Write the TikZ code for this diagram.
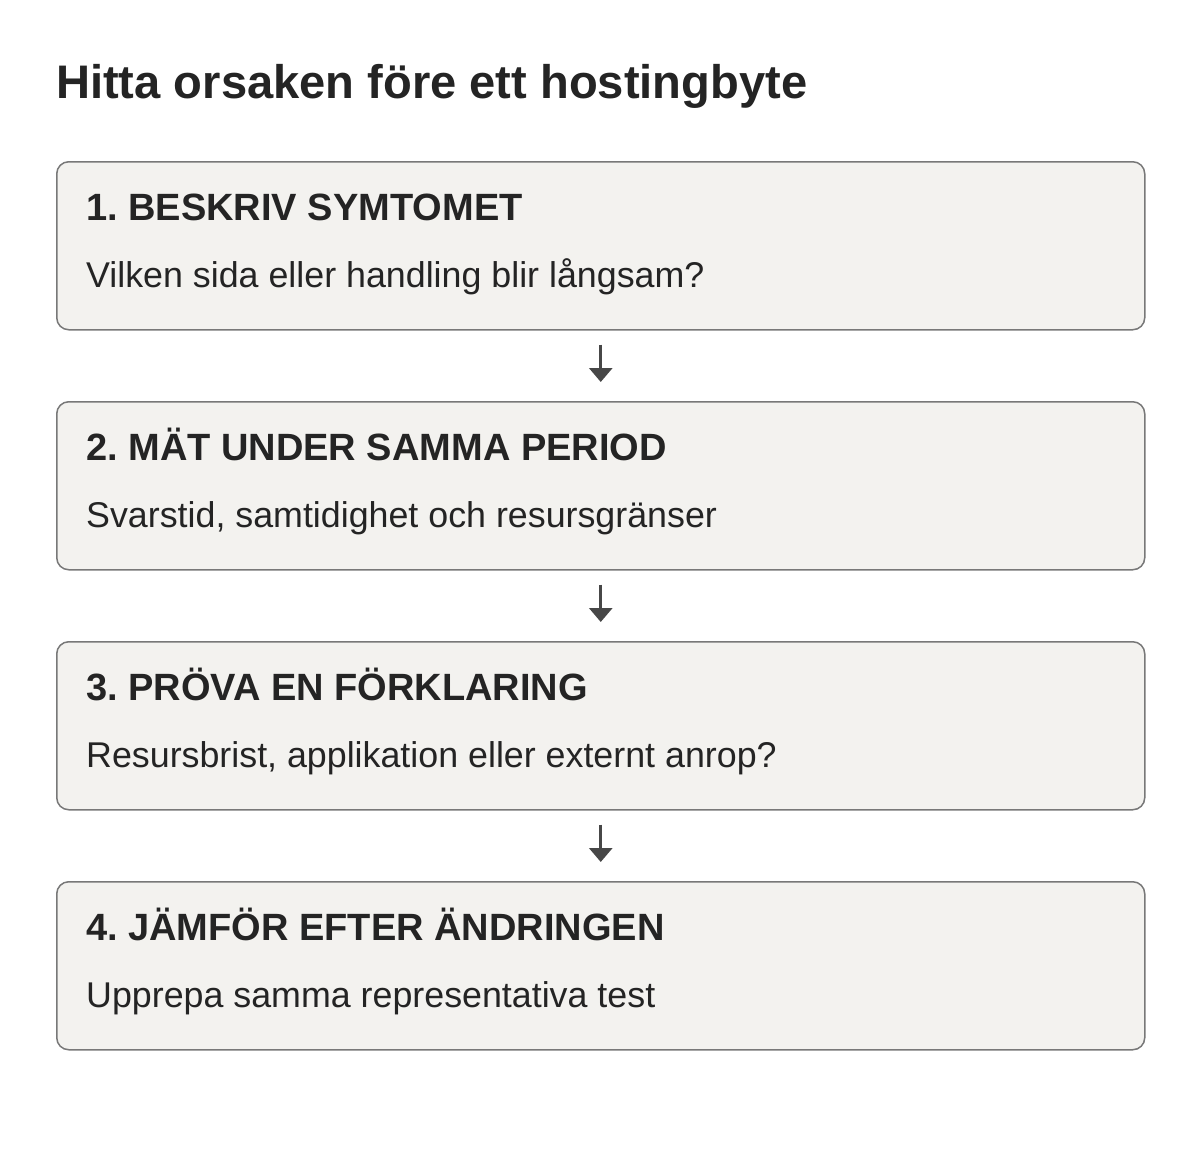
\documentclass[tikz,border=0pt]{standalone}
\usepackage{fontspec}
\setmainfont{Liberation Sans}
\usetikzlibrary{arrows.meta}
\definecolor{txt}{HTML}{242424}
\definecolor{boxfill}{HTML}{F3F2EF}
\definecolor{boxline}{HTML}{787878}
\definecolor{arrcol}{HTML}{474747}
\frenchspacing
\begin{document}
\begin{tikzpicture}[x=1pt,y=-1pt,
  stepbox/.style={draw=boxline,fill=boxfill,line width=1.5pt,rounded corners=12pt,
    minimum width=1088pt,minimum height=168pt,inner sep=0pt,anchor=north west},
  head/.style={anchor=base west,inner sep=0pt,text=txt,font=\fontsize{38}{40}\selectfont\bfseries},
  sub/.style={anchor=base west,inner sep=0pt,text=txt,font=\fontsize{35.8}{40}\selectfont},
  flow/.style={draw=arrcol,line width=3pt,-{Triangle[width=23pt,length=14pt]}}]
\useasboundingbox[fill=white] (0,0) rectangle (1200,1170);
\node[anchor=base west,inner sep=0pt,text=txt,font=\fontsize{47.1}{50}\selectfont\bfseries] (title) at (56,98) {Hitta orsaken före ett hostingbyte};
\foreach \i/\y/\h/\s in {1/161/1. BESKRIV SYMTOMET/Vilken sida eller handling blir långsam?,
  2/401/2. MÄT UNDER SAMMA PERIOD/{Svarstid, samtidighet och resursgränser},
  3/641/3. PRÖVA EN FÖRKLARING/{Resursbrist, applikation eller externt anrop?},
  4/881/4. JÄMFÖR EFTER ÄNDRINGEN/Upprepa samma representativa test}{
  \node[stepbox] (b\i) at (56,\y) {};
  \node[head] (h\i) at (86,\y+59) {\h};
  \node[sub] (s\i) at (86,\y+126) {\s};
}
\foreach \a/\b in {1/2,2/3,3/4}{
  \draw[flow] ([yshift=-14pt]b\a.south) -- ([yshift=19pt]b\b.north);
}
\end{tikzpicture}
\end{document}
